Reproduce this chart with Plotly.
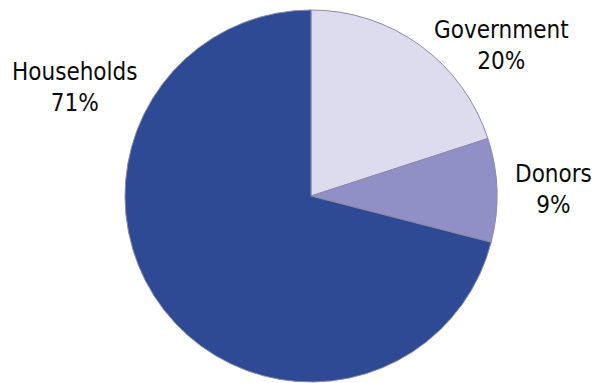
import plotly.graph_objects as go

labels = ["Government", "Donors", "Households"]
values = [20, 9, 71]
colors = ["#dcdcee", "#9090c6", "#2e4a94"]

# label anchor positions in pixels (layout only)
label_pos = {"Government": (501, 45), "Donors": (553, 189), "Households": (75, 87)}

W, H = 596, 383

fig = go.Figure(go.Pie(
    labels=labels,
    values=values,
    sort=False,
    direction="clockwise",
    rotation=0,
    textinfo="none",
    hoverinfo="label+percent",
    marker=dict(colors=colors, line=dict(color="#8a8aa8", width=1)),
    domain=dict(x=[125 / W, 497 / W], y=[1 / H, 373 / H]),
    showlegend=False,
))

font = dict(family="DejaVu Sans Condensed, Liberation Sans Narrow, sans-serif",
            size=24, color="#0a0a0a")
for lab, val in zip(labels, values):
    px, py = label_pos[lab]
    fig.add_annotation(
        x=px / W, y=1 - py / H, xref="paper", yref="paper",
        text=f"{lab}<br>{val}%", showarrow=False, align="center",
        xanchor="center", yanchor="middle", font=font,
    )

fig.update_layout(
    width=W, height=H,
    margin=dict(l=0, r=0, t=0, b=0),
    paper_bgcolor="white", plot_bgcolor="white",
)

fig.write_html("out.html")
